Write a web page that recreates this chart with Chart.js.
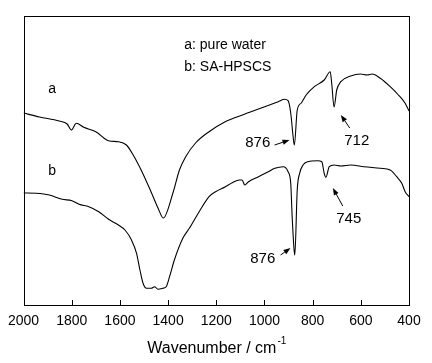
<!DOCTYPE html>
<html>
<head>
<meta charset="utf-8">
<script src="https://cdn.jsdelivr.net/npm/chart.js@4/dist/chart.umd.min.js"></script>
<style>
html,body{margin:0;padding:0;background:#fff;}
#wrap{width:432px;height:363px;position:relative;}
</style>
</head>
<body>
<div id="wrap"><canvas id="c" width="432" height="363"></canvas></div>
<script>
// Wavenumbers (cm^-1) and transmittance (arbitrary units)
const waveA = [2000,1934,1852,1819,1802,1781,1750,1700,1647,1606,1573,1545,1512,1471,1442,1420,1380,1353,1327,1286,1230,1163,1081,999,943,917,902,891,881,876,864,847,827,793,752,727,721,711,700,683,642,601,574,553,519,478,444,416,400];
const transA = [192,188,184,181,175,181.7,177.7,173.3,164.3,163.3,160,150,135,113.3,97,87,112,135,148.3,162,173.3,183.3,191,198.3,203.3,205.7,204.3,192,168.3,160,195,202,210,218.3,225,233.3,222,198,215,223.3,229,231,230,231,226.7,218.3,210,201.7,194];
const waveB = [2000,1948,1893,1840,1799,1770,1729,1688,1647,1606,1579,1552,1531,1517,1504,1490,1470,1456,1442,1422,1408,1394,1374,1339,1312,1271,1230,1203,1162,1134,1104,1093,1082,1066,1025,984,957,922,902,891,885,877,874,864,854,840,820,779,762,752,745,731,711,683,642,587,519,478,451,430,416,400];
const transB = [112,111.7,110,105.7,104.3,100.7,98.3,93.3,85.7,80,75,65,51.7,35,21.7,16.7,16.7,18.3,15.7,16.7,18.3,28.3,45,66.7,76.7,93.3,108.3,113.3,118.3,122.3,125,125,120,123.3,128.3,133.3,136.7,138.3,133.3,121.7,88.3,55,50,115,131.7,140,143.3,144.3,143.3,131.7,127.7,138.3,140,139,140,138.3,136.7,135,128.3,121.7,113.3,108.3];
const xTicks = [2000,1800,1600,1400,1200,1000,800,600,400];
const curveLabels = [
  {text:'a', x:1881, y:216},
  {text:'b', x:1881, y:134}
];
const legendLines = [
  {text:'a: pure water', x:1333, y:260},
  {text:'b: SA-HPSCS', x:1333, y:238}
];
const peakLabels = [
  {text:'876', x:1028, y:162, from:[958,160], to:[896,165]},
  {text:'712', x:617, y:164, from:[646,177], to:[683,190]},
  {text:'876', x:1007, y:46, from:[933,50], to:[892,57]},
  {text:'745', x:650, y:86, from:[675,99], to:[716,117]}
];

const FONT = '"Liberation Sans", Arial, sans-serif';

function arrow(ctx, x1, y1, x2, y2) {
  const ang = Math.atan2(y2 - y1, x2 - x1);
  const hl = 7, hw = 2.6;
  const bx = x2 - hl * Math.cos(ang), by = y2 - hl * Math.sin(ang);
  ctx.beginPath();
  ctx.moveTo(x1, y1);
  ctx.lineTo(bx, by);
  ctx.lineWidth = 1;
  ctx.strokeStyle = '#000';
  ctx.stroke();
  ctx.beginPath();
  ctx.moveTo(x2, y2);
  ctx.lineTo(bx + hw * Math.sin(ang), by - hw * Math.cos(ang));
  ctx.lineTo(bx - hw * Math.sin(ang), by + hw * Math.cos(ang));
  ctx.closePath();
  ctx.fillStyle = '#000';
  ctx.fill();
}

const decor = {
  id: 'decor',
  afterDraw(chart) {
    const ctx = chart.ctx;
    const a = chart.chartArea;
    const xs = chart.scales.x, ys = chart.scales.y;
    ctx.save();
    // frame
    ctx.strokeStyle = '#000';
    ctx.lineWidth = 1;
    ctx.strokeRect(Math.round(a.left) + 0.5, Math.round(a.top) + 0.5, Math.round(a.right - a.left), Math.round(a.bottom - a.top));
    // inward ticks
    ctx.beginPath();
    xTicks.forEach(v => {
      const px = Math.round(xs.getPixelForValue(v)) + 0.5;
      ctx.moveTo(px, a.bottom);
      ctx.lineTo(px, a.bottom - 5);
    });
    ctx.stroke();
    // texts
    ctx.fillStyle = '#000';
    ctx.textBaseline = 'middle';
    ctx.font = '14px ' + FONT;
    ctx.textAlign = 'center';
    curveLabels.forEach(l => ctx.fillText(l.text, xs.getPixelForValue(l.x), ys.getPixelForValue(l.y)));
    ctx.textAlign = 'left';
    legendLines.forEach(l => ctx.fillText(l.text, xs.getPixelForValue(l.x), ys.getPixelForValue(l.y)));
    ctx.textAlign = 'center';
    ctx.font = '15px ' + FONT;
    peakLabels.forEach(l => {
      ctx.fillText(l.text, xs.getPixelForValue(l.x), ys.getPixelForValue(l.y));
      arrow(ctx, xs.getPixelForValue(l.from[0]), ys.getPixelForValue(l.from[1]),
                 xs.getPixelForValue(l.to[0]), ys.getPixelForValue(l.to[1]));
    });
    // axis title with superscript
    const main = 'Wavenumber / cm';
    ctx.font = '16px ' + FONT;
    const w = ctx.measureText(main).width;
    ctx.font = '10px ' + FONT;
    const ws = ctx.measureText('-1').width;
    const cx = (a.left + a.right) / 2;
    const startX = cx - (w + ws) / 2;
    ctx.textAlign = 'left';
    ctx.textBaseline = 'alphabetic';
    ctx.font = '16px ' + FONT;
    ctx.fillText(main, startX, 353);
    ctx.font = '10px ' + FONT;
    ctx.fillText('-1', startX + w + 1, 344);
    ctx.restore();
  }
};

const toPts = (xs, ys) => xs.map((x, i) => ({x: x, y: ys[i]}));

new Chart(document.getElementById('c'), {
  type: 'line',
  data: {
    datasets: [
      {label: 'a', data: toPts(waveA, transA), borderColor: '#000', borderWidth: 1.1, pointRadius: 0, fill: false, cubicInterpolationMode: 'monotone'},
      {label: 'b', data: toPts(waveB, transB), borderColor: '#000', borderWidth: 1.1, pointRadius: 0, fill: false, cubicInterpolationMode: 'monotone'}
    ]
  },
  options: {
    responsive: false,
    animation: false,
    events: [],
    layout: {padding: {left: 19, right: 23, top: 16, bottom: 33}},
    plugins: {legend: {display: false}, tooltip: {enabled: false}, title: {display: false}},
    scales: {
      x: {
        type: 'linear',
        reverse: true,
        min: 400,
        max: 2000,
        afterBuildTicks: (s) => { s.ticks = xTicks.map(v => ({value: v})); },
        afterFit: (s) => { s.height = 25; },
        grid: {display: false, drawTicks: false},
        border: {display: false},
        ticks: {color: '#000', font: {size: 14, family: FONT}, padding: 8, maxRotation: 0, autoSkip: false,
                callback: (v) => String(v)}
      },
      y: {
        display: false,
        min: 0,
        max: 289
      }
    }
  },
  plugins: [decor]
});
</script>
</body>
</html>
